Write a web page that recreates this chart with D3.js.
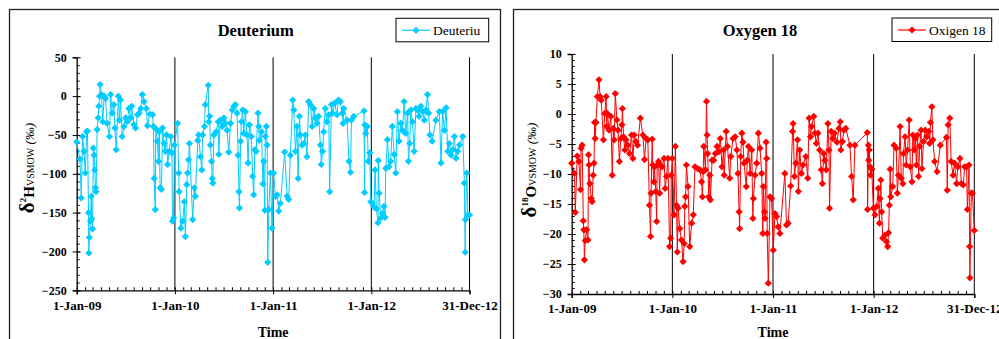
<!DOCTYPE html>
<html>
<head>
<meta charset="utf-8">
<script src="https://cdn.jsdelivr.net/npm/d3@7"></script>
<style>
  body { margin: 0; background: #fff; }
  svg { display: block; }
  text { font-family: "Liberation Serif", "Times New Roman", serif; }
</style>
</head>
<body>
<svg id="chart" width="999" height="339"></svg>
<script>
// x axis ticks (shared)
const xTickDates = ["2009-01-01", "2010-01-01", "2011-01-01", "2012-01-01", "2012-12-31"];
const deutTicks = [50, 0, -50, -100, -150, -200, -250];
const oxyTicks = [10, 5, 0, -5, -10, -15, -20, -25, -30];

// deuterium samples [date, ‰]
const deuterium = [
  ["2009-01-01", -59], ["2009-01-13", -81], ["2009-01-18", -131], ["2009-01-23", -52], ["2009-01-28", -71],
  ["2009-02-02", -99], ["2009-02-07", -46], ["2009-02-10", -45], ["2009-02-14", -150], ["2009-02-15", -202],
  ["2009-02-17", -182], ["2009-02-21", -161], ["2009-02-24", -129], ["2009-02-26", -158], ["2009-03-01", -171],
  ["2009-03-04", -67], ["2009-03-07", -76], ["2009-03-09", -95], ["2009-03-12", -118], ["2009-03-14", -123],
  ["2009-03-18", -43], ["2009-03-22", -28], ["2009-03-24", -13], ["2009-03-27", 0], ["2009-03-29", 15],
  ["2009-04-03", 2], ["2009-04-08", -33], ["2009-04-13", 0], ["2009-04-18", -3], ["2009-04-24", -35],
  ["2009-05-03", -52], ["2009-05-07", 2], ["2009-05-13", -22], ["2009-05-19", -11], ["2009-05-23", -41],
  ["2009-05-28", -69], ["2009-06-05", 0], ["2009-06-09", -31], ["2009-06-13", -5], ["2009-06-19", -52],
  ["2009-06-26", -39], ["2009-07-02", -28], ["2009-07-08", -33], ["2009-07-14", -16], ["2009-07-21", -28],
  ["2009-07-24", -13], ["2009-08-02", -37], ["2009-08-08", -41], ["2009-08-15", -24], ["2009-08-21", -22],
  ["2009-08-27", -16], ["2009-09-02", 2], ["2009-09-08", -7], ["2009-09-17", -16], ["2009-09-21", -38],
  ["2009-09-30", -23], ["2009-10-10", -24], ["2009-10-13", -39], ["2009-10-16", -106], ["2009-10-20", -146],
  ["2009-10-22", -42], ["2009-10-28", -58], ["2009-11-01", -84], ["2009-11-04", -46], ["2009-11-07", -118],
  ["2009-11-12", -120], ["2009-11-16", -41], ["2009-11-22", -61], ["2009-11-26", -71], ["2009-12-01", -50],
  ["2009-12-05", -88], ["2009-12-11", -71], ["2009-12-17", -52], ["2009-12-21", -73], ["2009-12-23", -161],
  ["2009-12-27", -157], ["2009-12-30", -63], ["2010-01-11", -35], ["2010-01-15", -99], ["2010-01-17", -123],
  ["2010-01-23", -170], ["2010-01-30", -161], ["2010-02-05", -136], ["2010-02-09", -181], ["2010-02-14", -114],
  ["2010-02-17", -99], ["2010-02-21", -82], ["2010-02-24", -61], ["2010-03-08", -159], ["2010-03-14", -118],
  ["2010-03-18", -129], ["2010-03-27", -57], ["2010-03-30", -50], ["2010-04-06", -78], ["2010-04-11", -95],
  ["2010-04-14", -50], ["2010-04-21", -39], ["2010-04-24", -11], ["2010-05-05", 14], ["2010-05-07", -33],
  ["2010-05-10", -26], ["2010-05-13", -63], ["2010-05-17", -84], ["2010-05-20", -106], ["2010-05-22", -112],
  ["2010-05-26", -50], ["2010-06-03", -46], ["2010-06-11", -33], ["2010-06-13", -75], ["2010-06-19", -31],
  ["2010-06-26", -39], ["2010-07-02", -28], ["2010-07-08", -35], ["2010-07-14", -44], ["2010-07-20", -72],
  ["2010-07-27", -35], ["2010-08-02", -18], ["2010-08-08", -13], ["2010-08-14", -11], ["2010-08-20", -22],
  ["2010-08-24", -76], ["2010-08-27", -123], ["2010-08-29", -144], ["2010-09-02", -58], ["2010-09-05", -33],
  ["2010-09-10", -18], ["2010-09-14", -48], ["2010-09-20", -20], ["2010-09-26", -50], ["2010-09-30", -86],
  ["2010-10-05", -37], ["2010-10-12", -52], ["2010-10-17", -103], ["2010-10-21", -127], ["2010-10-25", -69],
  ["2010-10-30", -71], ["2010-11-06", -22], ["2010-11-09", -39], ["2010-11-11", -57], ["2010-11-19", -46],
  ["2010-11-24", -113], ["2010-11-27", -84], ["2010-12-01", -147], ["2010-12-03", -52], ["2010-12-07", -39],
  ["2010-12-10", -63], ["2010-12-12", -214], ["2010-12-16", -146], ["2010-12-22", -99], ["2010-12-28", -170],
  ["2011-01-03", -99], ["2011-01-10", -129], ["2011-01-16", -127], ["2011-01-22", -148], ["2011-01-28", -138],
  ["2011-02-13", -72], ["2011-02-22", -129], ["2011-02-28", -133], ["2011-03-06", -76], ["2011-03-15", -5],
  ["2011-03-19", -18], ["2011-03-25", -71], ["2011-03-31", -39], ["2011-04-04", -106], ["2011-04-09", -26],
  ["2011-04-12", -50], ["2011-04-19", -63], ["2011-04-25", -61], ["2011-05-01", -50], ["2011-05-07", -78],
  ["2011-05-13", -7], ["2011-05-20", -11], ["2011-05-26", -39], ["2011-06-01", -16], ["2011-06-07", -28],
  ["2011-06-13", -35], ["2011-06-19", -26], ["2011-06-26", -63], ["2011-06-29", -88], ["2011-07-04", -71],
  ["2011-07-08", -46], ["2011-07-14", -16], ["2011-07-20", -33], ["2011-07-27", -24], ["2011-07-30", -123],
  ["2011-08-06", -11], ["2011-08-10", -22], ["2011-08-18", -9], ["2011-08-26", -24], ["2011-09-01", -5],
  ["2011-09-08", -7], ["2011-09-15", -22], ["2011-09-18", -35], ["2011-09-21", -16], ["2011-10-03", -31],
  ["2011-10-10", -84], ["2011-10-16", -98], ["2011-10-19", -31], ["2011-10-28", -26], ["2011-12-05", -19],
  ["2011-12-07", -124], ["2011-12-08", -37], ["2011-12-11", -48], ["2011-12-17", -39], ["2011-12-21", -84],
  ["2011-12-26", -73], ["2011-12-30", -136], ["2012-01-05", -138], ["2012-01-11", -143], ["2012-01-15", -95],
  ["2012-01-20", -145], ["2012-01-26", -163], ["2012-01-27", -83], ["2012-01-30", -125], ["2012-02-05", -157],
  ["2012-02-11", -151], ["2012-02-17", -142], ["2012-02-21", -156], ["2012-02-24", -93], ["2012-03-01", -56],
  ["2012-03-07", -91], ["2012-03-13", -84], ["2012-03-19", -39], ["2012-03-26", -75], ["2012-04-01", -99],
  ["2012-04-07", -20], ["2012-04-13", -58], ["2012-04-20", -35], ["2012-04-26", -44], ["2012-05-02", -7],
  ["2012-05-08", -48], ["2012-05-15", -22], ["2012-05-18", -84], ["2012-05-23", -61], ["2012-05-27", -18],
  ["2012-06-02", -33], ["2012-06-08", -71], ["2012-06-15", -16], ["2012-06-21", -18], ["2012-06-27", -26],
  ["2012-07-03", -13], ["2012-07-10", -20], ["2012-07-16", -31], ["2012-07-22", -18], ["2012-07-28", 2],
  ["2012-08-01", -22], ["2012-08-06", -50], ["2012-08-14", -58], ["2012-08-28", -31], ["2012-09-10", -20],
  ["2012-09-16", -86], ["2012-09-22", -20], ["2012-09-29", -44], ["2012-10-05", -15], ["2012-10-11", -71],
  ["2012-10-17", -61], ["2012-10-24", -76], ["2012-10-30", -69], ["2012-11-05", -52], ["2012-11-11", -80],
  ["2012-11-17", -71], ["2012-11-24", -63], ["2012-12-06", -52], ["2012-12-12", -112], ["2012-12-15", -201],
  ["2012-12-16", -159], ["2012-12-21", -99], ["2012-12-25", -153], ["2012-12-31", -153]
];

// oxygen 18 samples [date, ‰]
const oxygen18 = [
  ["2009-01-01", -8.2], ["2009-01-11", -9.9], ["2009-01-14", -16.4], ["2009-01-21", -7.0], ["2009-01-27", -7.9],
  ["2009-02-02", -12.6], ["2009-02-04", -5.7], ["2009-02-08", -5.2], ["2009-02-12", -17.8], ["2009-02-14", -19.3],
  ["2009-02-16", -24.3], ["2009-02-19", -21.1], ["2009-02-24", -19.3], ["2009-03-01", -21.0], ["2009-03-03", -6.8],
  ["2009-03-05", -8.5], ["2009-03-08", -11.6], ["2009-03-13", -14.1], ["2009-03-16", -14.6], ["2009-03-20", -10.2],
  ["2009-03-23", -8.2], ["2009-03-25", -1.4], ["2009-03-27", -4.1], ["2009-03-30", -1.4], ["2009-04-04", 2.9],
  ["2009-04-10", 5.7], ["2009-04-14", 2.9], ["2009-04-18", 2.3], ["2009-04-26", -4.3], ["2009-05-01", 0.1],
  ["2009-05-06", 2.9], ["2009-05-08", -2.1], ["2009-05-10", 0.1], ["2009-05-17", -2.7], ["2009-05-23", -0.4],
  ["2009-05-28", -10.2], ["2009-06-01", -2.4], ["2009-06-04", -4.3], ["2009-06-08", 3.4], ["2009-06-14", -1.0],
  ["2009-06-18", -2.7], ["2009-06-23", -7.9], ["2009-06-28", -4.1], ["2009-07-02", -1.8], ["2009-07-04", 0.9],
  ["2009-07-08", -3.8], ["2009-07-13", -6.0], ["2009-07-17", -4.3], ["2009-07-23", -5.2], ["2009-07-30", -6.6],
  ["2009-08-06", -3.5], ["2009-08-11", -7.4], ["2009-08-16", -3.5], ["2009-08-22", -4.6], ["2009-08-28", -5.2],
  ["2009-09-07", -0.7], ["2009-09-16", -3.5], ["2009-09-22", -7.6], ["2009-09-28", -4.1], ["2009-10-04", -4.3],
  ["2009-10-10", -15.2], ["2009-10-14", -20.4], ["2009-10-16", -13.2], ["2009-10-20", -4.2], ["2009-10-22", -8.5],
  ["2009-10-26", -11.3], ["2009-10-28", -8.8], ["2009-11-02", -12.9], ["2009-11-05", -17.9], ["2009-11-07", -8.5],
  ["2009-11-12", -7.9], ["2009-11-16", -13.2], ["2009-11-19", -8.5], ["2009-11-25", -8.8], ["2009-12-02", -7.4],
  ["2009-12-06", -12.4], ["2009-12-11", -10.4], ["2009-12-16", -7.4], ["2009-12-22", -22.1], ["2009-12-26", -20.7],
  ["2009-12-28", -10.2], ["2010-01-01", -7.4], ["2010-01-07", -16.8], ["2010-01-12", -5.4], ["2010-01-16", -15.2],
  ["2010-01-19", -23.0], ["2010-01-22", -15.7], ["2010-01-28", -19.1], ["2010-02-03", -21.0], ["2010-02-09", -24.6],
  ["2010-02-13", -21.6], ["2010-02-15", -15.4], ["2010-02-18", -13.8], ["2010-02-21", -8.5], ["2010-02-27", -12.1],
  ["2010-03-05", -22.1], ["2010-03-12", -18.2], ["2010-03-18", -16.8], ["2010-03-24", -8.8], ["2010-04-03", -9.1],
  ["2010-04-11", -9.3], ["2010-04-17", -11.3], ["2010-04-20", -13.8], ["2010-04-23", -9.6], ["2010-04-25", -5.4],
  ["2010-05-01", -9.3], ["2010-05-05", 2.1], ["2010-05-07", -3.5], ["2010-05-09", -6.6], ["2010-05-13", -13.8],
  ["2010-05-17", -10.2], ["2010-05-19", -14.3], ["2010-05-25", -7.7], ["2010-05-31", -7.7], ["2010-06-06", -6.6],
  ["2010-06-12", -5.4], ["2010-06-18", -6.3], ["2010-06-24", -4.1], ["2010-06-30", -8.8], ["2010-07-06", -6.0],
  ["2010-07-08", -10.2], ["2010-07-15", -2.9], ["2010-07-20", -5.4], ["2010-07-28", -10.7], ["2010-08-01", -7.1],
  ["2010-08-09", -4.1], ["2010-08-17", -3.8], ["2010-08-23", -6.0], ["2010-08-27", -9.9], ["2010-08-31", -16.3],
  ["2010-09-02", -19.1], ["2010-09-06", -7.1], ["2010-09-10", -3.2], ["2010-09-14", -4.7], ["2010-09-18", -8.2],
  ["2010-09-26", -12.1], ["2010-09-30", -7.7], ["2010-10-04", -5.4], ["2010-10-10", -9.9], ["2010-10-16", -6.0],
  ["2010-10-20", -17.4], ["2010-10-22", -14.1], ["2010-10-28", -10.2], ["2010-11-03", -8.2], ["2010-11-09", -3.2],
  ["2010-11-15", -5.7], ["2010-11-21", -9.9], ["2010-11-25", -19.9], ["2010-11-27", -12.1], ["2010-12-01", -16.3],
  ["2010-12-03", -17.4], ["2010-12-07", -4.7], ["2010-12-09", -7.4], ["2010-12-11", -19.9], ["2010-12-15", -28.2],
  ["2010-12-21", -13.8], ["2010-12-27", -14.1], ["2011-01-02", -22.7], ["2011-01-08", -16.6], ["2011-01-14", -17.1],
  ["2011-01-20", -18.8], ["2011-01-26", -19.9], ["2011-02-13", -9.9], ["2011-02-19", -18.5], ["2011-02-25", -18.2],
  ["2011-03-06", -12.0], ["2011-03-13", -2.9], ["2011-03-15", -1.6], ["2011-03-20", -10.4], ["2011-03-25", -8.2],
  ["2011-03-31", -4.3], ["2011-04-03", -12.9], ["2011-04-08", -6.0], ["2011-04-14", -9.9], ["2011-04-20", -8.5],
  ["2011-04-30", -7.1], ["2011-05-07", -10.7], ["2011-05-12", -0.7], ["2011-05-17", -3.8], ["2011-05-21", -2.1],
  ["2011-05-29", -0.4], ["2011-06-02", -3.2], ["2011-06-07", -4.9], ["2011-06-13", -3.2], ["2011-06-19", -6.0],
  ["2011-06-25", -9.3], ["2011-06-29", -11.6], ["2011-07-04", -6.6], ["2011-07-08", -7.7], ["2011-07-13", -9.3],
  ["2011-07-19", -1.6], ["2011-07-23", -6.0], ["2011-07-25", -15.7], ["2011-07-31", -2.9], ["2011-08-06", -4.1],
  ["2011-08-12", -3.2], ["2011-08-21", -4.7], ["2011-08-28", -2.4], ["2011-09-02", -1.3], ["2011-09-04", -6.0],
  ["2011-09-10", -4.6], ["2011-09-15", -2.7], ["2011-09-22", -2.4], ["2011-10-07", -5.2], ["2011-10-13", -10.4],
  ["2011-10-19", -14.3], ["2011-10-25", -5.2], ["2011-12-09", -3.1], ["2011-12-10", -15.9], ["2011-12-13", -5.2],
  ["2011-12-14", -7.7], ["2011-12-16", -6.0], ["2011-12-19", -8.8], ["2011-12-21", -10.2], ["2011-12-25", -9.2],
  ["2011-12-31", -15.7], ["2012-01-06", -16.8], ["2012-01-12", -15.4], ["2012-01-18", -12.4], ["2012-01-22", -18.2],
  ["2012-01-24", -14.1], ["2012-01-27", -11.0], ["2012-01-30", -16.3], ["2012-02-03", -20.7], ["2012-02-11", -20.2],
  ["2012-02-17", -21.3], ["2012-02-21", -22.1], ["2012-02-24", -19.8], ["2012-02-27", -15.2], ["2012-03-01", -9.2],
  ["2012-03-03", -13.8], ["2012-03-10", -12.1], ["2012-03-15", -5.2], ["2012-03-23", -5.7], ["2012-03-27", -13.2],
  ["2012-03-31", -10.2], ["2012-04-06", -2.1], ["2012-04-10", -10.7], ["2012-04-16", -11.6], ["2012-04-18", -6.6],
  ["2012-04-24", -3.8], ["2012-04-28", -8.5], ["2012-05-03", -6.0], ["2012-05-09", -1.0], ["2012-05-13", -8.8],
  ["2012-05-19", -11.3], ["2012-05-22", -3.5], ["2012-05-27", -6.0], ["2012-05-31", -4.1], ["2012-06-04", -8.5],
  ["2012-06-08", -3.5], ["2012-06-12", -10.4], ["2012-06-16", -5.4], ["2012-06-21", -2.7], ["2012-06-24", -9.1],
  ["2012-06-30", -4.6], ["2012-07-06", -2.7], ["2012-07-12", -3.8], ["2012-07-19", -2.9], ["2012-07-22", -4.9],
  ["2012-07-25", -1.4], ["2012-07-30", 1.2], ["2012-08-03", -4.3], ["2012-08-09", -7.9], ["2012-08-18", -9.6],
  ["2012-08-30", -5.2], ["2012-09-21", -3.9], ["2012-09-24", -12.7], ["2012-09-27", -1.8], ["2012-10-03", -0.7],
  ["2012-10-08", -7.9], ["2012-10-15", -10.2], ["2012-10-20", -8.2], ["2012-10-28", -11.6], ["2012-11-01", -8.8],
  ["2012-11-09", -7.4], ["2012-11-14", -11.6], ["2012-11-21", -11.8], ["2012-11-26", -8.8], ["2012-12-03", -8.8],
  ["2012-12-06", -15.9], ["2012-12-12", -8.5], ["2012-12-14", -22.1], ["2012-12-15", -27.3], ["2012-12-20", -13.2],
  ["2012-12-24", -13.2], ["2012-12-31", -19.4]
];

const parse = d3.timeParse("%Y-%m-%d");
const fmtDate = d3.timeFormat("%-d-%b-%y");
const svg = d3.select("#chart");

function drawPanel(cfg) {
  const g = svg.append("g");

  // outer chart frame
  g.append("rect")
    .attr("x", cfg.frame[0]).attr("y", cfg.frame[1])
    .attr("width", cfg.frame[2]).attr("height", cfg.frame[3])
    .attr("fill", "none").attr("stroke", "#222").attr("stroke-width", 1.3);

  const x = d3.scaleTime()
    .domain([parse(xTickDates[0]), parse(xTickDates[xTickDates.length - 1])])
    .range([cfg.left, cfg.right]);
  const y = d3.scaleLinear()
    .domain(cfg.domain)
    .range([cfg.bottom, cfg.top]);

  const tickDates = xTickDates.map(parse);

  // vertical gridlines at the major date ticks
  g.selectAll(".grid")
    .data(tickDates.slice(1))
    .join("line")
    .attr("class", "grid")
    .attr("x1", d => x(d)).attr("x2", d => x(d))
    .attr("y1", cfg.top).attr("y2", cfg.bottom)
    .attr("stroke", "#000").attr("stroke-width", 1);

  // y axis: labels + crossing major ticks + inner minor ticks
  const yAxis = g.append("g")
    .attr("transform", `translate(${cfg.left},0)`)
    .call(d3.axisLeft(y).tickValues(cfg.ticks).tickSize(4).tickPadding(6));
  yAxis.selectAll("text")
    .style("font-family", "Liberation Serif").style("font-weight", "bold")
    .style("font-size", "12px").attr("fill", "#000");
  g.append("g")
    .attr("transform", `translate(${cfg.left},0)`)
    .call(d3.axisRight(y).tickValues(cfg.ticks).tickSize(4).tickFormat(""))
    .call(a => a.select(".domain").remove());
  g.append("g")
    .attr("transform", `translate(${cfg.left},0)`)
    .call(d3.axisRight(y).tickValues(d3.range(cfg.domain[0], cfg.domain[1], cfg.minorStep)).tickSize(3).tickFormat(""))
    .call(a => a.select(".domain").remove());

  // x axis: major ticks below, monthly minor ticks above
  const xAxis = g.append("g")
    .attr("transform", `translate(0,${cfg.bottom})`)
    .call(d3.axisBottom(x).tickValues(tickDates).tickSize(4).tickPadding(6).tickFormat(fmtDate));
  xAxis.selectAll("text")
    .style("font-family", "Liberation Serif").style("font-weight", "bold")
    .style("font-size", "13px").attr("fill", "#000");
  g.append("g")
    .attr("transform", `translate(0,${cfg.bottom})`)
    .call(d3.axisTop(x).tickValues(d3.timeMonth.range(tickDates[0], tickDates[4])).tickSize(3).tickFormat(""))
    .call(a => a.select(".domain").remove());
  g.selectAll(".domain").attr("stroke", "#000").attr("stroke-width", 1.3);

  // series
  const data = cfg.data.map(d => ({date: parse(d[0]), value: d[1]}));
  const line = d3.line().x(d => x(d.date)).y(d => y(d.value));
  g.append("path")
    .datum(data)
    .attr("d", line)
    .attr("fill", "none")
    .attr("stroke", cfg.color)
    .attr("stroke-width", 1);

  const diamond = "M0,-3.6L3.6,0L0,3.6L-3.6,0Z";
  g.selectAll(".pt")
    .data(data)
    .join("path")
    .attr("class", "pt")
    .attr("d", diamond)
    .attr("transform", d => `translate(${x(d.date)},${y(d.value)})`)
    .attr("fill", cfg.color);

  // title
  g.append("text")
    .attr("x", cfg.titleX).attr("y", 36)
    .attr("text-anchor", "middle")
    .style("font-size", "16.5px").style("font-weight", "bold")
    .text(cfg.title);

  // x axis title
  g.append("text")
    .attr("x", (cfg.left + cfg.right) / 2).attr("y", 337)
    .attr("text-anchor", "middle")
    .style("font-size", "14px").style("font-weight", "bold")
    .text("Time");

  // legend
  const lg = g.append("g").attr("transform", `translate(${cfg.legend[0]},${cfg.legend[1]})`);
  lg.append("rect")
    .attr("width", cfg.legend[2]).attr("height", 23.5)
    .attr("fill", "#fff").attr("stroke", "#000").attr("stroke-width", 1);
  lg.append("line")
    .attr("x1", 6).attr("x2", 34).attr("y1", 12).attr("y2", 12)
    .attr("stroke", cfg.color).attr("stroke-width", 1.2);
  lg.append("path")
    .attr("d", diamond)
    .attr("transform", "translate(20,12)")
    .attr("fill", cfg.color);
  lg.append("text")
    .attr("x", 37).attr("y", 17)
    .style("font-size", "13.5px")
    .text(cfg.legendLabel);

  // y axis title with delta notation
  const yt = g.append("text")
    .attr("transform", `translate(${cfg.yTitle[0]},${cfg.yTitle[1]}) rotate(-90)`)
    .attr("text-anchor", "middle");
  yt.append("tspan").style("font-size", "21px").style("font-weight", "bold").text("δ");
  yt.append("tspan").attr("dy", -8).style("font-size", "9px").style("font-weight", "bold").text(cfg.isotope[0]);
  yt.append("tspan").attr("dy", 8).style("font-size", "15px").style("font-weight", "bold").text(cfg.isotope[1]);
  yt.append("tspan").style("font-size", "10px").text("VSMOW");
  yt.append("tspan").style("font-size", "13px").style("font-style", "italic").text(" (‰)");
}

drawPanel({
  frame: [9.5, 9.5, 491, 340],
  left: 76.7, right: 469.5, top: 57.3, bottom: 290.3,
  domain: [-250, 50], ticks: deutTicks, minorStep: 10,
  data: deuterium, color: "#00CCFF",
  title: "Deuterium", titleX: 255.7,
  legend: [396, 18.3, 92.7], legendLabel: "Deuteriu",
  yTitle: [34, 168], isotope: ["2", "H"]
});

drawPanel({
  frame: [513.5, 9.5, 500, 340],
  left: 571.7, right: 974.3, top: 54, bottom: 294,
  domain: [-30, 10], ticks: oxyTicks, minorStep: 1,
  data: oxygen18, color: "#FF0000",
  title: "Oxygen 18", titleX: 760,
  legend: [892, 18, 99.7], legendLabel: "Oxigen 18",
  yTitle: [536, 170], isotope: ["18", "O"]
});
</script>
</body>
</html>
